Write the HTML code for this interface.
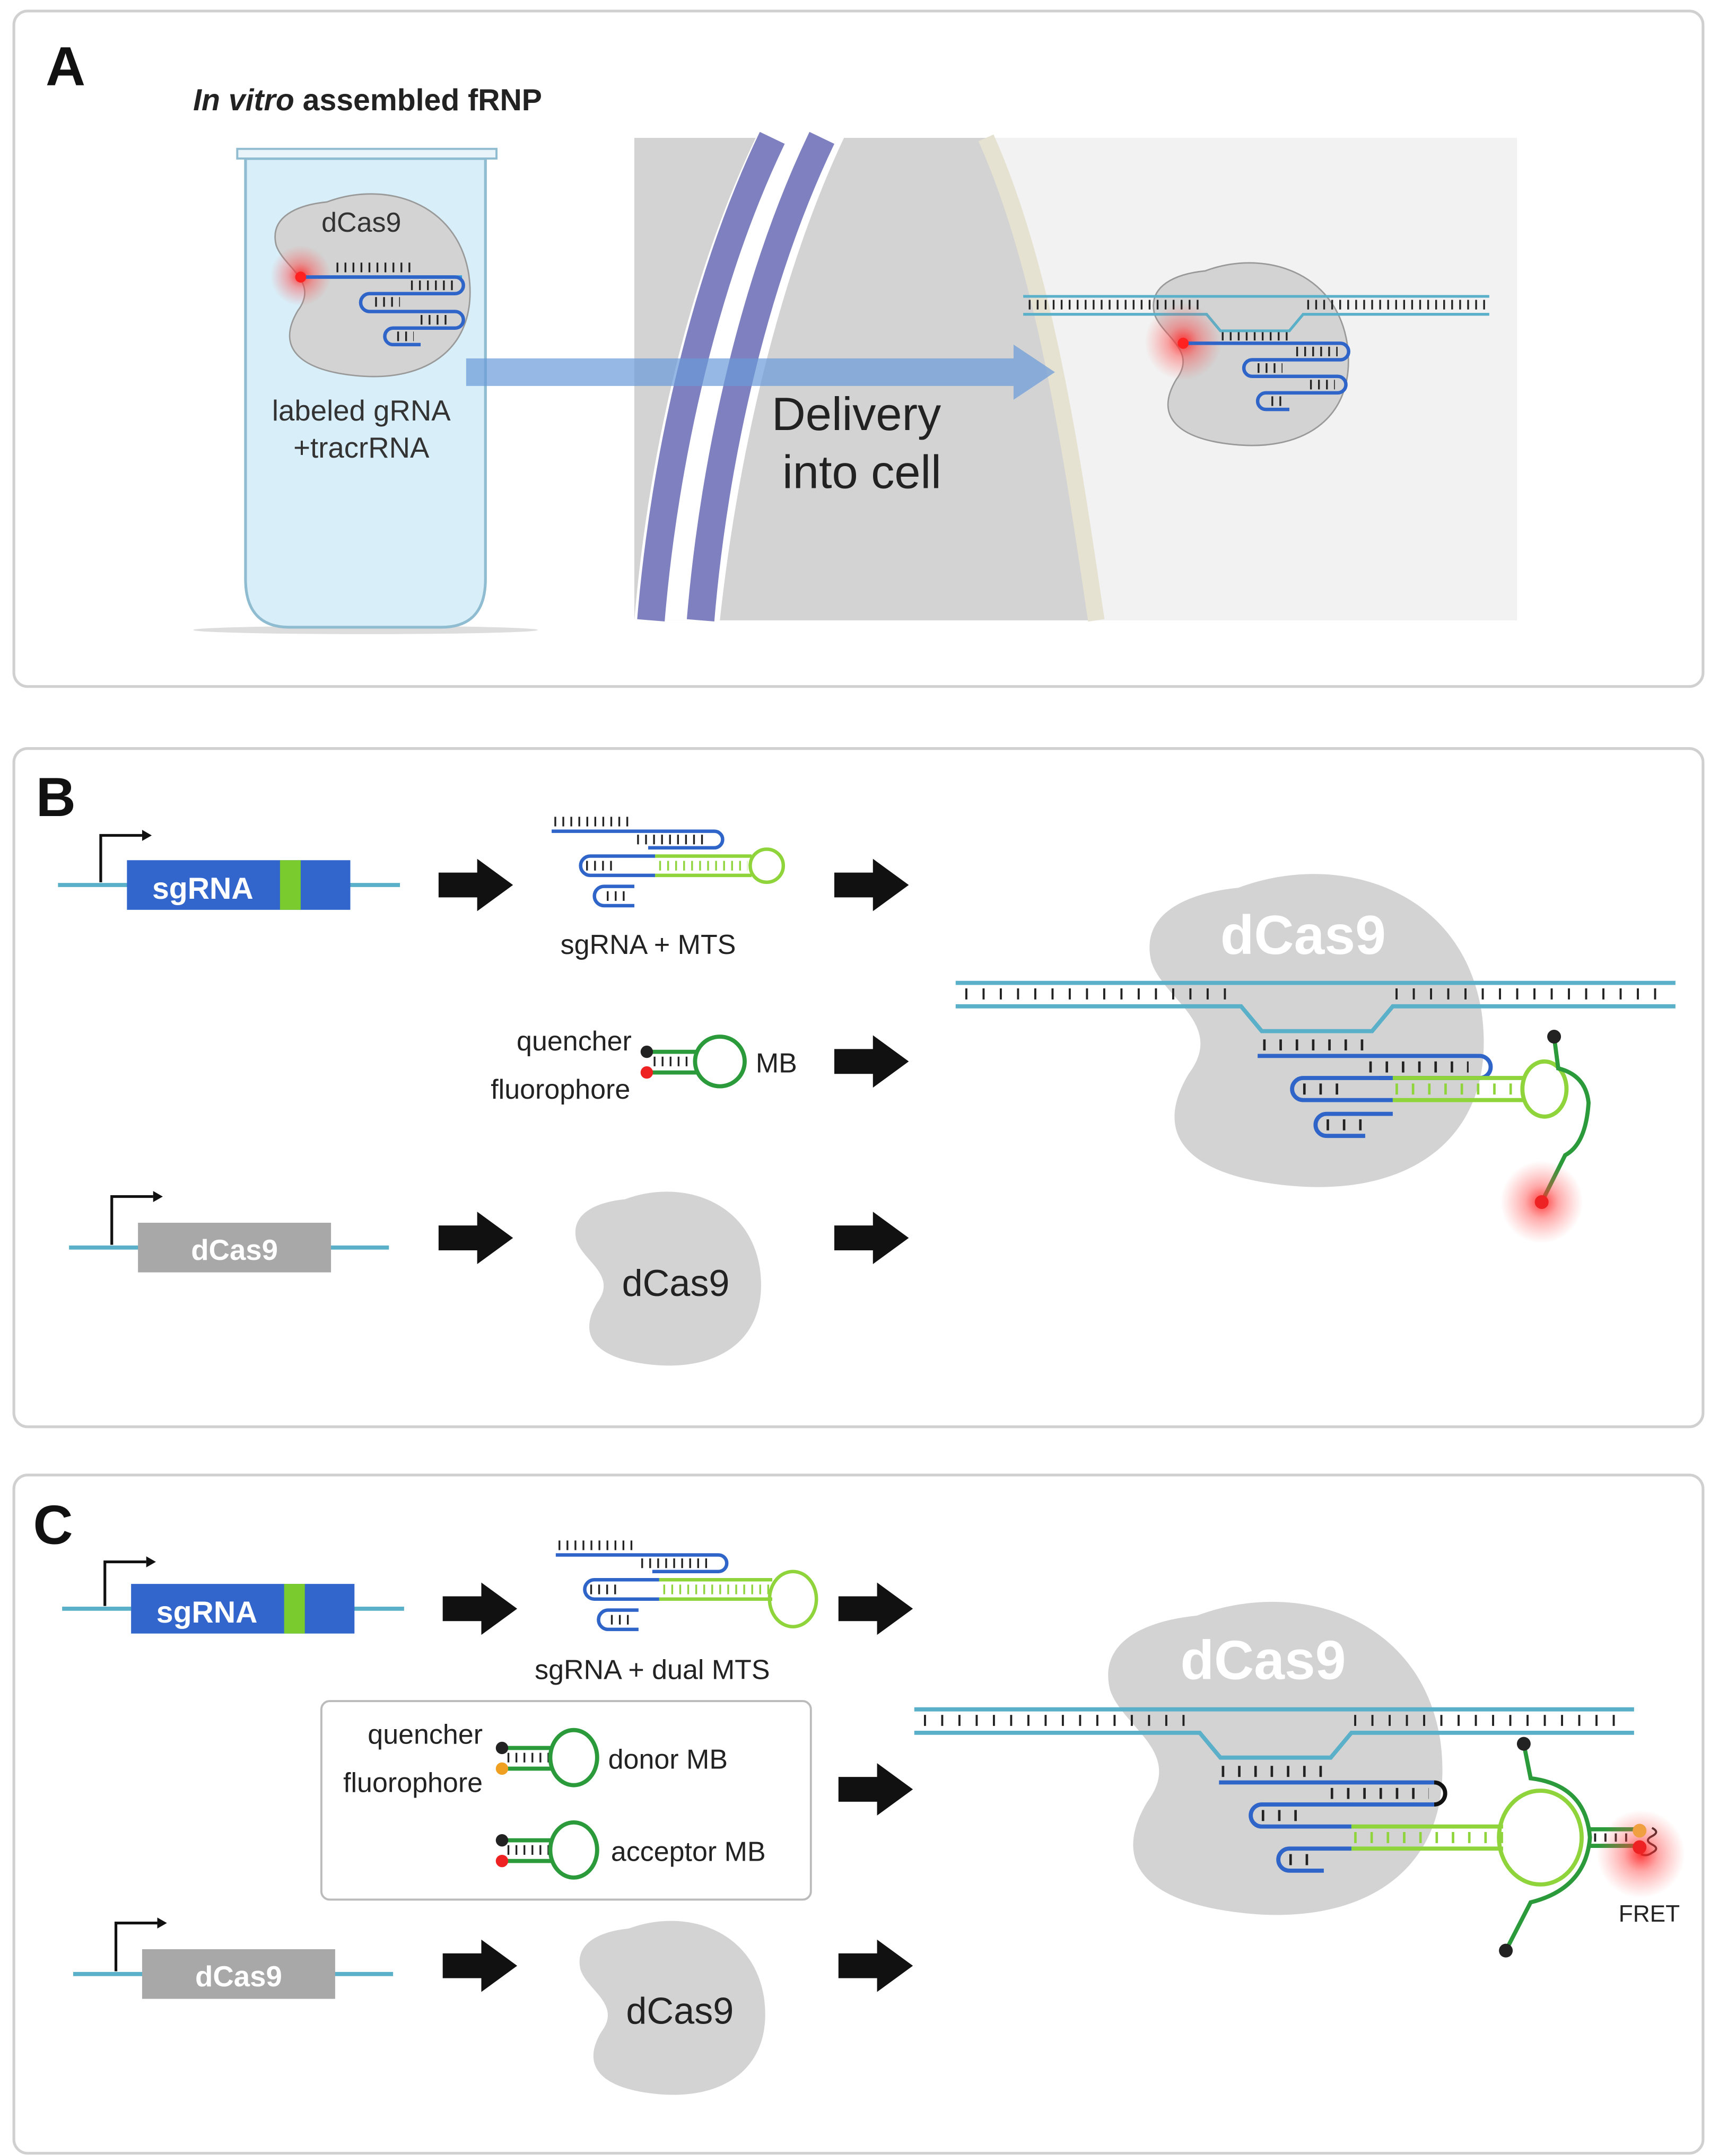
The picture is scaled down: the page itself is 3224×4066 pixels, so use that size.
<!DOCTYPE html>
<html><head><meta charset="utf-8"><style>
html,body{margin:0;padding:0;background:#fff}
svg{display:block}
text{font-family:"Liberation Sans Narrow","Liberation Sans",sans-serif}
.n{font-family:"Liberation Sans Narrow","Liberation Sans",sans-serif;font-stretch:condensed}
</style></head><body>
<svg width="3224" height="4066" viewBox="0 0 1240 1564" xmlns="http://www.w3.org/2000/svg">
<defs>
<radialGradient id="glow"><stop offset="0" stop-color="#ff2020" stop-opacity="0.9"/><stop offset="0.4" stop-color="#ff4040" stop-opacity="0.45"/><stop offset="1" stop-color="#ff6060" stop-opacity="0"/></radialGradient>
<path id="blob" d="M40,10 C80,-5 130,10 138,60 C145,110 110,135 60,130 C20,126 5,110 20,85 C35,65 10,55 5,40 C0,20 20,12 40,10 Z"/>
<g id="barrow"><polygon points="0,-9 28,-9 28,-19 54,0 28,19 28,9 0,9" fill="#111"/></g>
</defs>

<!-- Panel A -->
<rect x="10" y="8" width="1225" height="490" rx="10" fill="#fff" stroke="#d0d0d0" stroke-width="2"/>
<text x="33" y="62" font-size="40" font-weight="bold" fill="#111" font-family="Liberation Sans">A</text>
<text x="140" y="80" font-size="22" font-weight="bold" fill="#222" class="n"><tspan font-style="italic">In vitro</tspan> assembled fRNP</text>
<rect x="460" y="100" width="640" height="350" fill="#d3d3d3"/>
<path d="M715,100 C760,200 780,350 795,450 L1100,450 L1100,100 Z" fill="#f2f2f2"/>
<path d="M715,100 C760,200 780,350 795,450" fill="none" stroke="#e6e2d2" stroke-width="12"/>
<path d="M460,450 C470,330 500,200 548,100 L612,100 C565,200 535,330 522,450 Z" fill="#fff"/>
<path d="M472,450 C482,330 512,200 560,100" fill="none" stroke="#7f80c0" stroke-width="20"/>
<path d="M508,450 C518,330 548,200 596,100" fill="none" stroke="#7f80c0" stroke-width="20"/>
<ellipse cx="265" cy="457" rx="125" ry="3" fill="#ddd"/>
<path d="M178,115 V420 Q178,455 210,455 H320 Q352,455 352,420 V115 Z" fill="#d8eef8" stroke="#8fbcd0" stroke-width="2"/>
<rect x="172" y="108" width="188" height="7" fill="#e8f4fa" stroke="#8fbcd0" stroke-width="1.5"/>
<use href="#blob" transform="translate(195,136) scale(1.05)" fill="#d3d3d3" stroke="#999" stroke-width="1"/>
<circle cx="218" cy="200" r="22" fill="url(#glow)"/>
<text x="262" y="168" font-size="20" fill="#333" text-anchor="middle" class="n">dCas9</text>
<line x1="218" y1="201" x2="335" y2="201" stroke="#2e9fe0" stroke-width="2.5"/>
<line x1="244" y1="194" x2="300" y2="194" stroke="#222" stroke-width="7" stroke-dasharray="1.3 4.5"/>
<path d="M218,201 H330 A6,6 0 0 1 330,213 H268 A6,6 0 0 0 268,226 H330 A6,6 0 0 1 330,238 H285 A6,6 0 0 0 285,250 H305" fill="none" stroke="#2f64c8" stroke-width="2.5"/>
<line x1="298" y1="207" x2="332" y2="207" stroke="#222" stroke-width="7" stroke-dasharray="1.3 4.5"/>
<line x1="272" y1="219" x2="290" y2="219" stroke="#222" stroke-width="7" stroke-dasharray="1.3 4.5"/>
<line x1="305" y1="232" x2="325" y2="232" stroke="#222" stroke-width="7" stroke-dasharray="1.3 4.5"/>
<line x1="288" y1="244" x2="300" y2="244" stroke="#222" stroke-width="7" stroke-dasharray="1.3 4.5"/>
<circle cx="218" cy="201" r="4" fill="#ff2020"/>
<text x="262" y="305" font-size="21" fill="#333" text-anchor="middle" class="n">labeled gRNA</text>
<text x="262" y="332" font-size="21" fill="#333" text-anchor="middle" class="n">+tracrRNA</text>
<polygon points="338,260 735,260 735,250 765,270 735,290 735,280 338,280" fill="#6a9ad8" fill-opacity="0.7"/>
<text x="621" y="312" font-size="34" fill="#222" text-anchor="middle" class="n">Delivery</text>
<text x="625" y="354" font-size="34" fill="#222" text-anchor="middle" class="n">into cell</text>
<use href="#blob" transform="translate(832,186) scale(1.05)" fill="#d3d3d3" stroke="#999" stroke-width="1"/>
<line x1="742" y1="215" x2="1080" y2="215" stroke="#5ab0c8" stroke-width="2"/>
<path d="M742,228 H875 L885,240 H935 L945,228 H1080" fill="none" stroke="#5ab0c8" stroke-width="2"/>
<line x1="746" y1="221" x2="872" y2="221" stroke="#222" stroke-width="7" stroke-dasharray="1.3 4.5"/>
<line x1="948" y1="221" x2="1078" y2="221" stroke="#222" stroke-width="7" stroke-dasharray="1.3 4.5"/>
<circle cx="858" cy="248" r="28" fill="url(#glow)"/>
<line x1="886" y1="244" x2="935" y2="244" stroke="#222" stroke-width="6" stroke-dasharray="1.3 4.5"/>
<path d="M858,249 H972 A6,6 0 0 1 972,261 H908 A6,6 0 0 0 908,273 H970 A6,6 0 0 1 970,285 H918 A6,6 0 0 0 918,297 H935" fill="none" stroke="#2f64c8" stroke-width="2.5"/>
<line x1="940" y1="255" x2="970" y2="255" stroke="#222" stroke-width="7" stroke-dasharray="1.3 4.5"/>
<line x1="912" y1="267" x2="930" y2="267" stroke="#222" stroke-width="7" stroke-dasharray="1.3 4.5"/>
<line x1="950" y1="279" x2="968" y2="279" stroke="#222" stroke-width="7" stroke-dasharray="1.3 4.5"/>
<line x1="922" y1="291" x2="932" y2="291" stroke="#222" stroke-width="7" stroke-dasharray="1.3 4.5"/>
<circle cx="858" cy="249" r="4" fill="#ff2020"/>

<!-- Panel B -->
<rect x="10" y="543" width="1225" height="492" rx="10" fill="#fff" stroke="#d0d0d0" stroke-width="2"/>
<text x="26" y="592" font-size="40" font-weight="bold" fill="#111" font-family="Liberation Sans">B</text>
<line x1="42" y1="642" x2="290" y2="642" stroke="#5ab0c8" stroke-width="3"/>
<rect x="92" y="624" width="162" height="36" fill="#3366cc"/>
<rect x="203" y="624" width="15" height="36" fill="#7acb2e"/>
<text x="147" y="652" font-size="22" font-weight="bold" fill="#fff" text-anchor="middle" class="n">sgRNA</text>
<path d="M73,640 V606 H103" fill="none" stroke="#111" stroke-width="2"/><polygon points="103,602 110,606 103,610" fill="#111"/>
<use href="#barrow" x="318" y="642"/><use href="#barrow" x="605" y="642"/><use href="#barrow" x="605" y="770"/><use href="#barrow" x="318" y="898"/><use href="#barrow" x="605" y="898"/>
<g fill="none" stroke-width="2.5">
<line x1="402" y1="596" x2="460" y2="596" stroke="#222" stroke-width="7" stroke-dasharray="1.3 4.5"/>
<path d="M400,603 H518 A6,6 0 0 1 518,615 H470" stroke="#2f64c8"/>
<line x1="462" y1="609" x2="512" y2="609" stroke="#222" stroke-width="7" stroke-dasharray="1.3 4.5"/>
<path d="M475,621 H428 A7,7 0 0 0 428,635 H475" stroke="#2f64c8"/>
<line x1="425" y1="628" x2="445" y2="628" stroke="#222" stroke-width="7" stroke-dasharray="1.3 4.5"/>
<path d="M475,621 H545 M475,635 H545" stroke="#8ed43a"/>
<circle cx="556" cy="628" r="12" stroke="#8ed43a"/>
<line x1="478" y1="628" x2="542" y2="628" stroke="#8ed43a" stroke-width="7" stroke-dasharray="1.3 4.5"/>
<path d="M460,643 H438 A7,7 0 0 0 438,657 H460" stroke="#2f64c8"/>
<line x1="440" y1="650" x2="456" y2="650" stroke="#222" stroke-width="7" stroke-dasharray="1.3 4.5"/>
</g>
<text x="470" y="692" font-size="20" fill="#222" text-anchor="middle" class="n">sgRNA + MTS</text>
<text x="458" y="762" font-size="20" fill="#222" text-anchor="end" class="n">quencher</text>
<text x="457" y="797" font-size="20" fill="#222" text-anchor="end" class="n">fluorophore</text>
<path d="M470,763 H505 M470,778 H505" stroke="#2a9a3a" stroke-width="3" fill="none"/>
<line x1="474" y1="770" x2="502" y2="770" stroke="#222" stroke-width="7" stroke-dasharray="1.3 4.5"/>
<circle cx="522" cy="770" r="18" fill="none" stroke="#2a9a3a" stroke-width="3"/>
<circle cx="469" cy="763" r="4.5" fill="#222"/><circle cx="469" cy="778" r="4.5" fill="#ee2222"/>
<text x="548" y="778" font-size="20" fill="#222" class="n">MB</text>
<line x1="50" y1="905" x2="282" y2="905" stroke="#5ab0c8" stroke-width="3"/>
<rect x="100" y="887" width="140" height="36" fill="#a8a8a8"/>
<text x="170" y="914" font-size="21" font-weight="bold" fill="#fff" text-anchor="middle" class="n">dCas9</text>
<path d="M81,903 V868 H111" fill="none" stroke="#111" stroke-width="2"/><polygon points="111,864 118,868 111,872" fill="#111"/>
<use href="#blob" transform="translate(413,860)" fill="#d3d3d3"/>
<text x="490" y="940" font-size="27" fill="#222" text-anchor="middle" class="n">dCas9</text>
<use href="#blob" transform="translate(826,626) scale(1.8)" fill="#d3d3d3"/>
<text x="945" y="692" font-size="40" font-weight="bold" fill="#fff" text-anchor="middle" class="n">dCas9</text>
<g fill="none">
<line x1="693" y1="713" x2="1215" y2="713" stroke="#5ab0c8" stroke-width="3"/>
<path d="M693,730 H900 L915,748 H995 L1010,730 H1215" stroke="#5ab0c8" stroke-width="3"/>
<line x1="700" y1="721" x2="895" y2="721" stroke="#222" stroke-width="8" stroke-dasharray="1.5 11"/>
<line x1="1012" y1="721" x2="1210" y2="721" stroke="#222" stroke-width="8" stroke-dasharray="1.5 11"/>
<line x1="916" y1="758" x2="995" y2="758" stroke="#222" stroke-width="8" stroke-dasharray="1.8 10"/>
<path d="M912,766 H1073 A8,8 0 0 1 1073,782 H1000" stroke="#2f64c8" stroke-width="3"/>
<line x1="993" y1="774" x2="1065" y2="774" stroke="#222" stroke-width="8" stroke-dasharray="1.8 10"/>
<path d="M1010,782 H945 A8,8 0 0 0 945,798 H1010" stroke="#2f64c8" stroke-width="3"/>
<line x1="945" y1="790" x2="975" y2="790" stroke="#222" stroke-width="8" stroke-dasharray="1.8 10"/>
<path d="M1010,782 H1105 M1010,798 H1105" stroke="#8ed43a" stroke-width="3"/>
<line x1="1012" y1="790" x2="1105" y2="790" stroke="#8ed43a" stroke-width="8" stroke-dasharray="1.8 10"/>
<ellipse cx="1120" cy="790" rx="16" ry="20" stroke="#8ed43a" stroke-width="3"/>
<path d="M1010,808 H962 A8,8 0 0 0 962,824 H990" stroke="#2f64c8" stroke-width="3"/>
<line x1="962" y1="816" x2="988" y2="816" stroke="#222" stroke-width="8" stroke-dasharray="1.8 10"/>
<path d="M1127,752 L1130,775 Q1150,780 1152,800 Q1150,830 1135,838 L1118,872" stroke="#2a9a3a" stroke-width="3"/>
</g>
<circle cx="1127" cy="752" r="5" fill="#222"/>
<circle cx="1118" cy="872" r="30" fill="url(#glow)"/>
<circle cx="1118" cy="872" r="5" fill="#ee2222"/>

<!-- Panel C -->
<rect x="10" y="1070" width="1225" height="492" rx="10" fill="#fff" stroke="#d0d0d0" stroke-width="2"/>
<text x="24" y="1120" font-size="40" font-weight="bold" fill="#111" font-family="Liberation Sans">C</text>
<line x1="45" y1="1167" x2="293" y2="1167" stroke="#5ab0c8" stroke-width="3"/>
<rect x="95" y="1149" width="162" height="36" fill="#3366cc"/>
<rect x="206" y="1149" width="15" height="36" fill="#7acb2e"/>
<text x="150" y="1177" font-size="22" font-weight="bold" fill="#fff" text-anchor="middle" class="n">sgRNA</text>
<path d="M76,1165 V1133 H106" fill="none" stroke="#111" stroke-width="2"/><polygon points="106,1129 113,1133 106,1137" fill="#111"/>
<use href="#barrow" x="321" y="1167"/><use href="#barrow" x="608" y="1167"/><use href="#barrow" x="608" y="1298"/><use href="#barrow" x="321" y="1426"/><use href="#barrow" x="608" y="1426"/>
<g fill="none" stroke-width="2.5">
<line x1="405" y1="1121" x2="463" y2="1121" stroke="#222" stroke-width="7" stroke-dasharray="1.3 4.5"/>
<path d="M403,1128 H521 A6,6 0 0 1 521,1140 H473" stroke="#2f64c8"/>
<line x1="465" y1="1134" x2="515" y2="1134" stroke="#222" stroke-width="7" stroke-dasharray="1.3 4.5"/>
<path d="M478,1146 H431 A7,7 0 0 0 431,1160 H478" stroke="#2f64c8"/>
<line x1="428" y1="1153" x2="448" y2="1153" stroke="#222" stroke-width="7" stroke-dasharray="1.3 4.5"/>
<path d="M478,1146 H560 M478,1160 H560" stroke="#8ed43a"/>
<ellipse cx="575" cy="1160" rx="17" ry="20" stroke="#8ed43a"/>
<line x1="481" y1="1153" x2="558" y2="1153" stroke="#8ed43a" stroke-width="7" stroke-dasharray="1.3 4.5"/>
<path d="M463,1168 H441 A7,7 0 0 0 441,1182 H463" stroke="#2f64c8"/>
<line x1="443" y1="1175" x2="459" y2="1175" stroke="#222" stroke-width="7" stroke-dasharray="1.3 4.5"/>
</g>
<text x="473" y="1218" font-size="20" fill="#222" text-anchor="middle" class="n">sgRNA + dual MTS</text>
<rect x="233" y="1234" width="355" height="144" rx="6" fill="#fff" stroke="#bbb" stroke-width="1.5"/>
<text x="350" y="1265" font-size="20" fill="#222" text-anchor="end" class="n">quencher</text>
<text x="350" y="1300" font-size="20" fill="#222" text-anchor="end" class="n">fluorophore</text>
<path d="M364,1268 H400 M364,1283 H400" stroke="#2a9a3a" stroke-width="3" fill="none"/>
<line x1="368" y1="1275" x2="398" y2="1275" stroke="#222" stroke-width="7" stroke-dasharray="1.3 4.5"/>
<ellipse cx="416" cy="1275" rx="17" ry="20" fill="none" stroke="#2a9a3a" stroke-width="3"/>
<circle cx="364" cy="1268" r="4.5" fill="#222"/><circle cx="364" cy="1283" r="4.5" fill="#f0a020"/>
<text x="441" y="1283" font-size="20" fill="#222" class="n">donor MB</text>
<path d="M364,1335 H400 M364,1350 H400" stroke="#2a9a3a" stroke-width="3" fill="none"/>
<line x1="368" y1="1342" x2="398" y2="1342" stroke="#222" stroke-width="7" stroke-dasharray="1.3 4.5"/>
<ellipse cx="416" cy="1342" rx="17" ry="20" fill="none" stroke="#2a9a3a" stroke-width="3"/>
<circle cx="364" cy="1335" r="4.5" fill="#222"/><circle cx="364" cy="1350" r="4.5" fill="#ee2222"/>
<text x="443" y="1350" font-size="20" fill="#222" class="n">acceptor MB</text>
<line x1="53" y1="1432" x2="285" y2="1432" stroke="#5ab0c8" stroke-width="3"/>
<rect x="103" y="1414" width="140" height="36" fill="#a8a8a8"/>
<text x="173" y="1441" font-size="21" font-weight="bold" fill="#fff" text-anchor="middle" class="n">dCas9</text>
<path d="M84,1430 V1395 H114" fill="none" stroke="#111" stroke-width="2"/><polygon points="114,1391 121,1395 114,1399" fill="#111"/>
<use href="#blob" transform="translate(416,1389)" fill="#d3d3d3"/>
<text x="493" y="1468" font-size="27" fill="#222" text-anchor="middle" class="n">dCas9</text>
<use href="#blob" transform="translate(796,1154) scale(1.8)" fill="#d3d3d3"/>
<text x="916" y="1218" font-size="40" font-weight="bold" fill="#fff" text-anchor="middle" class="n">dCas9</text>
<g fill="none">
<line x1="663" y1="1240" x2="1185" y2="1240" stroke="#5ab0c8" stroke-width="3"/>
<path d="M663,1257 H870 L885,1275 H965 L980,1257 H1185" stroke="#5ab0c8" stroke-width="3"/>
<line x1="670" y1="1248" x2="866" y2="1248" stroke="#222" stroke-width="8" stroke-dasharray="1.5 11"/>
<line x1="982" y1="1248" x2="1180" y2="1248" stroke="#222" stroke-width="8" stroke-dasharray="1.5 11"/>
<line x1="886" y1="1285" x2="965" y2="1285" stroke="#222" stroke-width="8" stroke-dasharray="1.8 10"/>
<path d="M884,1293 H1040" stroke="#2f64c8" stroke-width="3"/>
<path d="M1040,1293 A8,8 0 0 1 1040,1309" stroke="#111" stroke-width="3"/>
<path d="M1040,1309 H915 A8,8 0 0 0 915,1325 H980" stroke="#2f64c8" stroke-width="3"/>
<line x1="965" y1="1301" x2="1036" y2="1301" stroke="#222" stroke-width="8" stroke-dasharray="1.8 10"/>
<line x1="915" y1="1317" x2="945" y2="1317" stroke="#222" stroke-width="8" stroke-dasharray="1.8 10"/>
<path d="M980,1325 H1090 M980,1341 H1090" stroke="#8ed43a" stroke-width="3"/>
<line x1="982" y1="1333" x2="1090" y2="1333" stroke="#8ed43a" stroke-width="8" stroke-dasharray="1.8 10"/>
<ellipse cx="1117" cy="1333" rx="30" ry="34" stroke="#8ed43a" stroke-width="3"/>
<path d="M980,1341 H935 A8,8 0 0 0 935,1357 H960" stroke="#2f64c8" stroke-width="3"/>
<line x1="935" y1="1349" x2="955" y2="1349" stroke="#222" stroke-width="8" stroke-dasharray="1.8 10"/>
<path d="M1105,1265 L1110,1290 Q1150,1295 1153,1333 Q1150,1370 1110,1380 L1092,1415" stroke="#2a9a3a" stroke-width="3"/>
<path d="M1153,1327 H1188 M1153,1339 H1188" stroke="#2a9a3a" stroke-width="3"/>
<line x1="1156" y1="1333" x2="1186" y2="1333" stroke="#222" stroke-width="6" stroke-dasharray="1.5 6"/>
<path d="M1198,1326 q6,3 0,6 q-6,3 0,6 q6,3 0,6 q-4,3 -8,1" stroke="#222" stroke-width="1.5"/>
</g>
<circle cx="1105" cy="1265" r="5" fill="#222"/>
<circle cx="1092" cy="1415" r="5" fill="#222"/>
<circle cx="1190" cy="1345" r="32" fill="url(#glow)"/>
<circle cx="1189" cy="1328" r="5" fill="#f0a040"/>
<circle cx="1189" cy="1340" r="5" fill="#ee2222"/>
<text x="1196" y="1394" font-size="17" fill="#222" text-anchor="middle" class="n">FRET</text>
</svg>
</body></html>
